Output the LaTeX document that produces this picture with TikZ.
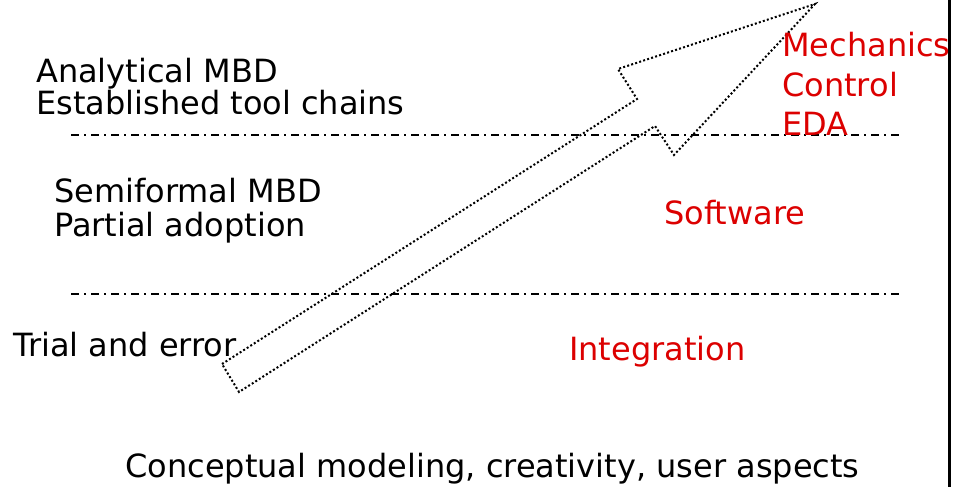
\documentclass[tikz,border=0pt]{standalone}
\usepackage{fontspec}
\setmainfont{DejaVu Sans}
\definecolor{labelred}{RGB}{220,0,0}
\begin{document}
\begin{tikzpicture}[x=1pt,y=-1pt,
  lbl/.style={anchor=base west,inner sep=0pt,font=\fontsize{32}{34}\selectfont},
  redlbl/.style={lbl,text=labelred},
  level/.style={line width=1.5pt,dash pattern=on 8pt off 5pt on 2pt off 5pt},
  bigarrow/.style={line width=2pt,dash pattern=on 2pt off 2.2pt}]
  \useasboundingbox (0,0) rectangle (953,487);
  \fill[white] (0,0) rectangle (953,487);

  % right border
  \draw[line width=3pt] (949.5,0) -- (949.5,487);

  % level separators
  \draw[level] (71,135) -- (903,135);
  \draw[level] (71,294) -- (903,294);

  % maturity arrow
  \draw[bigarrow,line join=miter]
    (222,364) -- (637,99) -- (618,69) -- (815,4) -- (674,155) -- (655,126) -- (239,392) -- cycle;

  % levels
  \node[lbl] (ana) at (36,82) {Analytical MBD};
  \node[lbl] (tools) at (36,114.5) {Established tool chains};
  \node[lbl] (semi) at (54,202) {Semiformal MBD};
  \node[lbl] (partial) at (54,236) {Partial adoption};
  \node[lbl] (trial) at (13,356) {Trial and error};

  % domains
  \node[redlbl] (mech) at (782,57) {Mechanics};
  \node[redlbl] (ctrl) at (782,96) {Control};
  \node[redlbl] (eda) at (782,135) {EDA};
  \node[redlbl] (sw) at (664,224) {Software};
  \node[redlbl] (integ) at (569,360) {Integration};

  \node[lbl] (concept) at (125,477) {Conceptual modeling, creativity, user aspects};
\end{tikzpicture}
\end{document}
